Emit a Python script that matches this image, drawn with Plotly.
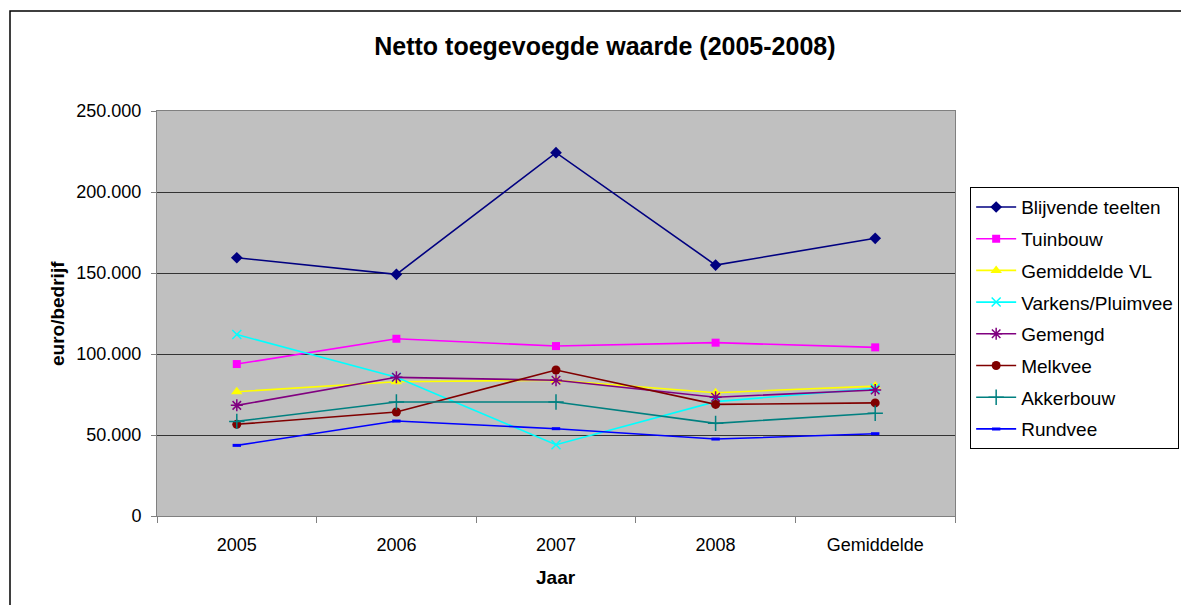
import plotly.graph_objects as go

jaren = ['2005', '2006', '2007', '2008', 'Gemiddelde']

blijvende_teelten = [159400, 149200, 224300, 154900, 171400]
tuinbouw = [93800, 109400, 104900, 107000, 104100]
gemiddelde_vl = [76700, 82900, 83800, 76100, 80200]
varkens_pluimvee = [112000, 85600, 44000, 70600, 78800]
gemengd = [68300, 85600, 83800, 73300, 77800]
melkvee = [56600, 64200, 90100, 68900, 69800]
akkerbouw = [58400, 70400, 70400, 57200, 63400]
rundvee = [43600, 58600, 53900, 47500, 50800]

FONT = "Arial, Liberation Sans, sans-serif"

series = [
    ('Blijvende teelten', blijvende_teelten, '#000080', 'diamond', 9, 0),
    ('Tuinbouw', tuinbouw, '#FF00FF', 'square', 8, 0),
    ('Gemiddelde VL', gemiddelde_vl, '#FFFF00', 'triangle-up', 10, 0),
    ('Varkens/Pluimvee', varkens_pluimvee, '#00FFFF', 'x-thin-open', 9, 1.5),
    ('Gemengd', gemengd, '#800080', 'asterisk-open', 10, 1.5),
    ('Melkvee', melkvee, '#800000', 'circle', 9, 0),
    ('Akkerbouw', akkerbouw, '#008080', 'cross-thin-open', 11, 1.5),
    ('Rundvee', rundvee, '#0000FF', 'line-ew-open', 6, 3),
]

fig = go.Figure()
for name, vals, color, symbol, size, lw in series:
    fig.add_trace(go.Scatter(
        x=jaren, y=vals, name=name, mode='lines+markers',
        line=dict(color=color, width=1.6),
        marker=dict(symbol=symbol, size=size, color=color,
                    line=dict(color=color, width=lw)),
        legendgroup=name,
    ))

# page has an 8px body margin, so figure coords = page coords - 8
fig.update_layout(
    width=1189, height=605,
    paper_bgcolor='white', plot_bgcolor='#C0C0C0',
    separators=',.',
    font=dict(family=FONT, size=18, color='black'),
    margin=dict(l=149, r=242, t=103, b=97),
    title=dict(text='<b>Netto toegevoegde waarde (2005-2008)</b>',
               x=0.502, xanchor='center', y=1 - 38 / 605, yanchor='middle',
               font=dict(family=FONT, size=25, color='black')),
    legend=dict(x=1.019, y=0.812, xanchor='left', yanchor='top',
                bgcolor='white', bordercolor='black', borderwidth=1,
                font=dict(family=FONT, size=19), traceorder='grouped',
                tracegroupgap=4, itemwidth=40),
    showlegend=True,
)

fig.update_xaxes(
    type='category', range=[-0.5, 4.5], tickson='boundaries',
    ticks='outside', ticklen=6, tickcolor='#808080',
    showline=True, linecolor='#808080', mirror=True,
    showgrid=False, tickfont=dict(family=FONT, size=18),
    ticklabelstandoff=12,
)
fig.update_yaxes(
    range=[0, 250000], dtick=50000, tickformat=',.0f',
    ticks='outside', ticklen=5, tickcolor='#808080',
    showline=True, linecolor='#808080', mirror=True,
    showgrid=True, gridcolor='#333333', gridwidth=1,
    tickfont=dict(family=FONT, size=18), zeroline=False,
    ticklabelstandoff=6,
)

fig.add_annotation(text='<b>euro/bedrijf</b>', textangle=-90,
                   xref='paper', yref='paper', x=(45 - 157) / 798, y=0.5,
                   showarrow=False, font=dict(family=FONT, size=19))
fig.add_annotation(text='<b>Jaar</b>', xref='paper', yref='paper',
                   x=0.5, y=(516 - 577) / 405, yanchor='middle',
                   showarrow=False, font=dict(family=FONT, size=19))

# outer chart border
fig.add_shape(type='rect', xref='paper', yref='paper',
              x0=(10 - 157) / 798, x1=(1195 - 157) / 798,
              y0=(516 - 610) / 405, y1=(516 - 11) / 405,
              line=dict(color='black', width=1.5), layer='below')

fig.write_html("out.html")
